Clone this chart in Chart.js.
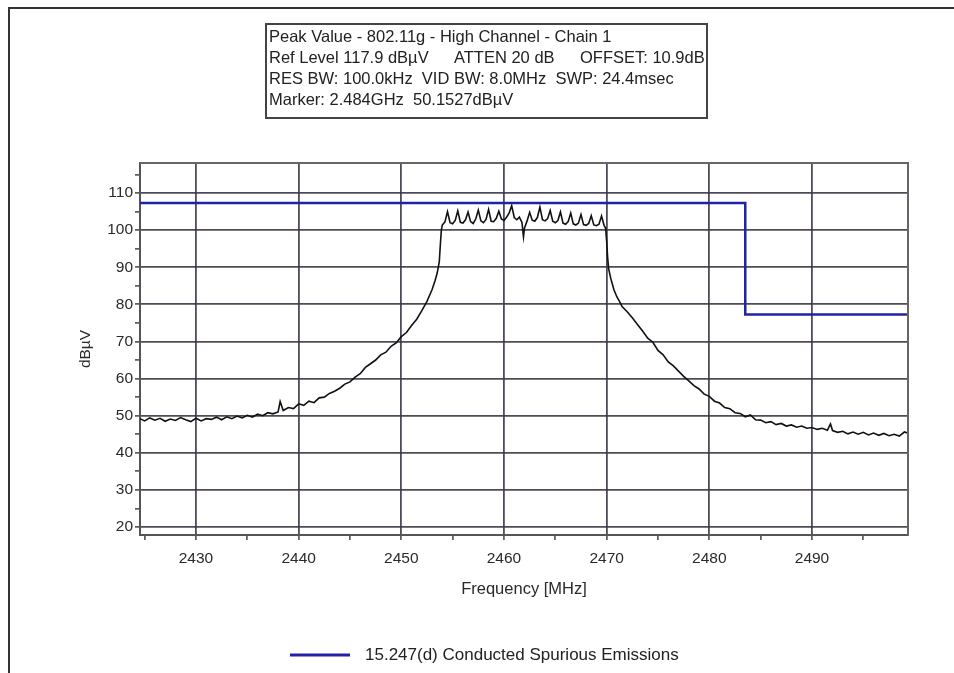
<!DOCTYPE html>
<html>
<head>
<meta charset="utf-8">
<script src="https://cdn.jsdelivr.net/npm/chart.js@4.4.0/dist/chart.umd.min.js"></script>
<style>
    html, body { margin: 0; padding: 0; background: #fff; }
    #wrap { width: 954px; height: 673px; }
</style>
</head>
<body>
<div id="wrap"><canvas id="chart1" width="954" height="673"></canvas></div>
<script>
// Peak trace (MHz, dBuV)
const freqMHz = [
    2424.55, 2425, 2425.5, 2426, 2426.5, 2427, 2427.5, 2428, 2428.5, 2429, 2429.5,
    2430, 2430.5, 2431, 2431.5, 2432, 2432.5, 2433, 2433.5, 2434, 2434.5,
    2435, 2435.5, 2436, 2436.5, 2437, 2437.5, 2438, 2438.2, 2438.5, 2439, 2439.5,
    2440, 2440.5, 2441, 2441.5, 2442, 2442.5, 2443, 2443.5, 2444, 2444.5,
    2445, 2445.5, 2446, 2446.5, 2447, 2447.5, 2448, 2448.5, 2449, 2449.5,
    2450, 2450.5, 2451, 2451.5, 2452, 2452.5, 2453, 2453.3, 2453.5, 2453.7, 2453.8, 2453.9,
    2454, 2454.25, 2454.5, 2454.75, 2455, 2455.25, 2455.5, 2455.75,
    2456, 2456.25, 2456.5, 2456.75, 2457, 2457.25, 2457.5, 2457.75,
    2458, 2458.25, 2458.5, 2458.75, 2459, 2459.25, 2459.5, 2459.75,
    2460, 2460.25, 2460.5, 2460.75, 2461, 2461.25, 2461.5, 2461.75, 2461.9,
    2462, 2462.25, 2462.5, 2462.75, 2463, 2463.25, 2463.5, 2463.75,
    2464, 2464.25, 2464.5, 2464.75, 2465, 2465.25, 2465.5, 2465.75,
    2466, 2466.25, 2466.5, 2466.75, 2467, 2467.25, 2467.5, 2467.75,
    2468, 2468.25, 2468.5, 2468.75, 2469, 2469.25, 2469.5, 2469.75, 2469.9,
    2470, 2470.1, 2470.2, 2470.4, 2470.7, 2471, 2471.25, 2471.5, 2472, 2472.5,
    2473, 2473.5, 2474, 2474.5, 2475, 2475.5, 2476, 2476.5, 2477, 2477.5,
    2478, 2478.5, 2479, 2479.5, 2480, 2480.5, 2481, 2481.5, 2482, 2482.5,
    2483, 2483.5, 2484, 2484.5, 2485, 2485.5, 2486, 2486.5, 2487, 2487.5,
    2488, 2488.5, 2489, 2489.5, 2490, 2490.5, 2491, 2491.5, 2491.8, 2492, 2492.5,
    2493, 2493.5, 2494, 2494.5, 2495, 2495.5, 2496, 2496.5, 2497, 2497.5,
    2498, 2498.5, 2499, 2499.35
];
const levelDb = [
    49.2, 48.6, 49.4, 48.8, 49.3, 48.5, 49.1, 48.7, 49.5, 48.9, 48.4,
    49.3, 48.6, 49.2, 49.0, 49.6, 48.9, 49.7, 49.2, 49.9, 49.4,
    50.1, 49.6, 50.4, 50.0, 50.8, 50.5, 51.0, 53.8, 51.4, 52.2, 51.9,
    53.2, 52.8, 53.9, 53.5, 54.8, 55.0, 56.0, 56.6, 57.4, 58.5,
    59.1, 60.4, 61.3, 63.0, 64.0, 65.0, 66.4, 67.1, 68.7, 69.6,
    71.3, 72.4, 74.3, 76.0, 78.3, 80.8, 84.0, 86.5, 88.5, 91.5, 96.0, 100.0,
    101.4, 102.2, 105.0, 102.0, 101.7, 102.6, 105.2, 102.1,
    101.9, 102.8, 104.9, 102.3, 101.8, 103.0, 105.4, 102.5,
    102.0, 102.9, 105.6, 102.4, 102.3, 103.2, 105.1, 103.0,
    102.6, 103.5, 104.6, 106.6, 103.4, 102.8, 103.5, 102.1, 98.2,
    100.6, 102.5, 104.8, 102.7, 102.4, 103.4, 106.2, 102.8,
    102.5, 103.1, 105.3, 102.4, 102.0, 102.6, 104.9, 101.9,
    101.6, 102.3, 104.6, 101.7, 101.4, 101.9, 104.2, 101.5,
    101.3, 101.8, 103.9, 101.4, 101.2, 101.6, 103.8, 101.3, 100.5,
    97.0, 92.5, 89.5, 87.0, 84.0, 82.0, 80.8, 79.4, 78.0, 76.4,
    74.6, 72.8, 70.9, 69.8, 67.6, 66.4, 64.5, 63.4, 62.0, 60.6,
    59.4, 58.1, 57.2, 55.8, 55.2, 53.9, 53.4, 52.2, 51.9, 50.8,
    50.6, 49.7, 50.2, 48.9, 48.8, 48.1, 48.4, 47.6, 47.9, 47.2,
    47.5, 46.9, 47.2, 46.6, 46.8, 46.3, 46.6, 46.1, 47.8, 46.0, 45.5,
    45.8, 45.1, 45.6, 45.0, 45.5, 44.8, 45.3, 44.7, 45.2, 44.6,
    45.0, 44.5, 45.6, 45.3
];

// Limit line
const limitFreq = [2424.55, 2483.5, 2483.5, 2499.35];
const limitLevel = [107.3, 107.3, 77.3, 77.3];
const limitLabel = '15.247(d) Conducted Spurious Emissions';

// Header box text
const infoLines = [
    ['Peak Value - 802.11g - High Channel - Chain 1'],
    ['Ref Level 117.9 dBµV', 'ATTEN 20 dB', 'OFFSET: 10.9dB'],
    ['RES BW: 100.0kHz  VID BW: 8.0MHz  SWP: 24.4msec'],
    ['Marker: 2.484GHz  50.1527dBµV']
];

const FONT = '"Liberation Sans", Arial, sans-serif';
const GRID = 'rgba(62, 54, 70, 0.9)';

const extras = {
    id: 'extras',
    afterDraw(chart) {
        const ctx = chart.ctx;
        const a = chart.chartArea;
        ctx.save();
        // top and right edge of the plot
        ctx.strokeStyle = '#666';
        ctx.lineWidth = 2;
        ctx.beginPath();
        ctx.moveTo(a.left, a.top);
        ctx.lineTo(a.right, a.top);
        ctx.lineTo(a.right, a.bottom);
        ctx.stroke();

        // outer frame (left + top)
        ctx.strokeStyle = '#333';
        ctx.beginPath();
        ctx.moveTo(9, 673);
        ctx.lineTo(9, 8);
        ctx.lineTo(954, 8);
        ctx.stroke();

        // header box
        ctx.strokeStyle = '#444';
        ctx.strokeRect(266, 24, 441, 94);
        ctx.fillStyle = '#222';
        ctx.font = '16.5px ' + FONT;
        ctx.textBaseline = 'middle';
        const cols = [269, 454, 580];
        infoLines.forEach((parts, i) => {
            parts.forEach((t, j) => ctx.fillText(t, cols[j], 37 + i * 21.3));
        });

        // legend
        const ds = chart.data.datasets[1];
        ctx.strokeStyle = ds.borderColor;
        ctx.lineWidth = 3;
        ctx.beginPath();
        ctx.moveTo(290, 655);
        ctx.lineTo(350, 655);
        ctx.stroke();
        ctx.font = '17px ' + FONT;
        ctx.fillStyle = '#222';
        ctx.fillText(ds.label, 365, 655);
        ctx.restore();
    }
};

const ctx = document.getElementById('chart1').getContext('2d');
new Chart(ctx, {
    type: 'line',
    data: {
        datasets: [{
            label: 'Peak',
            data: freqMHz.map((f, i) => ({ x: f, y: levelDb[i] })),
            borderColor: '#111',
            borderWidth: 1.6,
            pointRadius: 0,
            tension: 0
        }, {
            label: limitLabel,
            data: limitFreq.map((f, i) => ({ x: f, y: limitLevel[i] })),
            borderColor: '#2222a8',
            borderWidth: 2.5,
            pointRadius: 0,
            tension: 0
        }]
    },
    options: {
        responsive: false,
        animation: false,
        layout: { padding: { top: 163, right: 46, left: 70, bottom: 68 } },
        plugins: {
            legend: { display: false },
            tooltip: { enabled: false }
        },
        scales: {
            x: {
                type: 'linear',
                min: 2424.55,
                max: 2499.35,
                afterFit(s) { s.height = 70; },
                ticks: {
                    stepSize: 5,
                    includeBounds: false,
                    autoSkip: false,
                    maxRotation: 0,
                    padding: 9,
                    color: '#2a2a2a',
                    font: { size: 15.5, family: FONT },
                    callback: v => (Math.round(v) % 10 === 0 ? String(Math.round(v)) : '')
                },
                grid: {
                    color: c => (c.tick && Math.round(c.tick.value) % 10 === 0 ? GRID : 'rgba(0,0,0,0)'),
                    lineWidth: 1.8,
                    tickLength: 5,
                    tickColor: '#444',
                    tickWidth: 1.5
                },
                border: { color: '#555', width: 2 },
                title: {
                    display: true,
                    text: 'Frequency [MHz]',
                    color: '#2a2a2a',
                    font: { size: 16.5, family: FONT },
                    padding: { top: 4, bottom: 6 }
                }
            },
            y: {
                min: 17.84,
                max: 118.1,
                afterFit(s) { s.width = 70; },
                ticks: {
                    stepSize: 5,
                    includeBounds: false,
                    autoSkip: false,
                    padding: 2,
                    color: '#2a2a2a',
                    font: { size: 15.5, family: FONT },
                    callback: v => (Math.round(v) % 10 === 0 ? String(Math.round(v)) : '')
                },
                grid: {
                    color: c => (c.tick && Math.round(c.tick.value) % 10 === 0 ? GRID : 'rgba(0,0,0,0)'),
                    lineWidth: 1.8,
                    tickLength: 5,
                    tickColor: '#444',
                    tickWidth: 1.5
                },
                border: { color: '#555', width: 2 },
                title: {
                    display: true,
                    text: 'dBµV',
                    color: '#2a2a2a',
                    font: { size: 15.5, family: FONT },
                    padding: { top: 6, bottom: 0 }
                }
            }
        }
    },
    plugins: [extras]
});
</script>
</body>
</html>
